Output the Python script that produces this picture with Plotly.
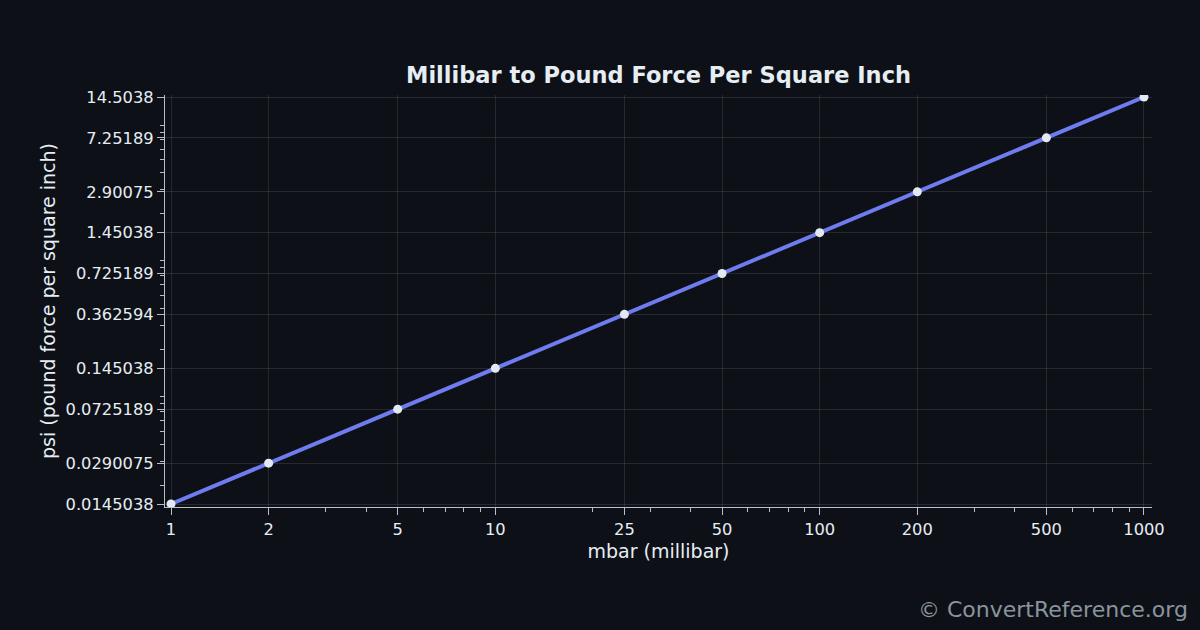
import math
import plotly.graph_objects as go

mbar = [1, 2, 5, 10, 25, 50, 100, 200, 500, 1000]
psi = [0.0145038, 0.0290075, 0.0725189, 0.145038, 0.362594, 0.725189,
       1.45038, 2.90075, 7.25189, 14.5038]
x_labels = ["1", "2", "5", "10", "25", "50", "100", "200", "500", "1000"]
y_labels = ["0.0145038", "0.0290075", "0.0725189", "0.145038", "0.362594",
            "0.725189", "1.45038", "2.90075", "7.25189", "14.5038"]

BG = "#0d1117"
TXT = "#e6edf3"
GRID = "rgba(255,255,255,0.10)"
SPINE = "#b8bfc8"
LINE = "#6f7cf0"
FONT = "DejaVu Sans"


def minor_vals(lo, hi, majors):
    vals = []
    for e in range(math.floor(math.log10(lo)) - 1, math.ceil(math.log10(hi)) + 1):
        for m in range(2, 10):
            v = m * 10 ** e
            if lo <= v <= hi and all(abs(v - M) / M > 1e-3 for M in majors):
                vals.append(v)
    return vals


fig = go.Figure()
fig.add_trace(go.Scatter(
    x=mbar, y=psi, mode="lines+markers",
    line=dict(color=LINE, width=4),
    marker=dict(color="#e3e9f2", size=9, line=dict(width=0)),
    showlegend=False,
))

xr = [-0.0185, 3.0247]
yr = [-1.8605, 1.1762]

fig.update_layout(
    width=1200, height=630,
    paper_bgcolor=BG, plot_bgcolor=BG,
    margin=dict(l=165, r=48, t=95, b=123),
    font=dict(family=FONT, color=TXT, size=16),
    title=dict(text="<b>Millibar to Pound Force Per Square Inch</b>",
               x=(165 + 1152) / 2 / 1200, xanchor="center",
               y=1 - 75 / 630, yanchor="middle",
               font=dict(size=22.5, color=TXT, family=FONT)),
    xaxis=dict(
        type="log", range=xr,
        tickmode="array", tickvals=mbar, ticktext=x_labels,
        ticks="outside", ticklen=7, tickwidth=1.2, tickcolor=SPINE,
        showline=True, linecolor=SPINE, linewidth=1.2,
        showgrid=True, gridcolor=GRID, gridwidth=1,
        zeroline=False,
        tickfont=dict(size=16.3, color=TXT),
        title=dict(text="mbar (millibar)", font=dict(size=19, color=TXT), standoff=7),
        minor=dict(tickmode="array", tickvals=minor_vals(1, 1000, mbar),
                   ticks="outside", ticklen=4, tickwidth=1, tickcolor=SPINE,
                   showgrid=False),
    ),
    yaxis=dict(
        type="log", range=yr,
        tickmode="array", tickvals=psi, ticktext=y_labels,
        ticks="outside", ticklen=7, tickwidth=1.2, tickcolor=SPINE,
        showline=True, linecolor=SPINE, linewidth=1.2,
        showgrid=True, gridcolor=GRID, gridwidth=1,
        zeroline=False,
        tickfont=dict(size=16.3, color=TXT),
        title=dict(text="psi (pound force per square inch)",
                   font=dict(size=19, color=TXT), standoff=4),
        minor=dict(tickmode="array", tickvals=minor_vals(0.0145, 14.6, psi),
                   ticks="outside", ticklen=4, tickwidth=1, tickcolor=SPINE,
                   showgrid=False),
    ),
    annotations=[dict(
        text="© ConvertReference.org", xref="paper", yref="paper",
        x=1 + (1190 - 1152) / (1152 - 165), y=-(609 - 507) / (507 - 95),
        xanchor="right", yanchor="middle", showarrow=False,
        font=dict(size=22, color="#8b949e", family=FONT),
    )],
)

fig.write_html("out.html")
